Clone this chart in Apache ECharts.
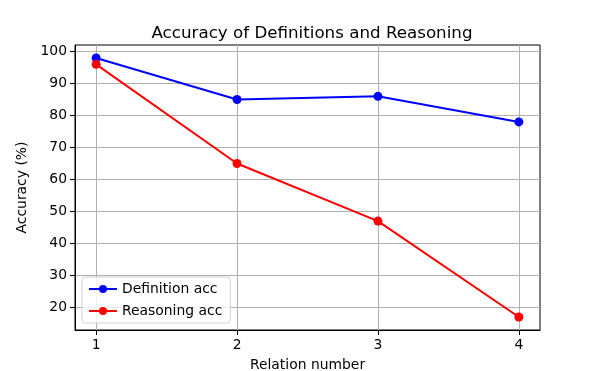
<!DOCTYPE html>
<html lang="en">
<head>
<meta charset="utf-8">
<title>Accuracy of Definitions and Reasoning</title>
<script src="https://cdn.jsdelivr.net/npm/echarts@6/dist/echarts.min.js"></script>
<style>
  html, body { margin: 0; padding: 0; background: #fff; }
  #chart { width: 600px; height: 371px; }
</style>
</head>
<body>
<div id="chart"></div>
<script>
// data
const relations = [1, 2, 3, 4];
const definitionAcc = [98, 85, 86, 78];
const reasoningAcc = [96, 65, 47, 17];
const yTicks = [20, 30, 40, 50, 60, 70, 80, 90, 100];

const FONT = 'DejaVu Sans';

const chart = echarts.init(document.getElementById('chart'));

function pairs(xs, ys) {
  return xs.map((x, i) => [x, ys[i]]);
}

chart.setOption({
  animation: false,
  backgroundColor: '#fff',
  title: {
    text: 'Accuracy of Definitions and Reasoning',
    left: 307, top: 20, textAlign: 'center',
    textStyle: { fontFamily: FONT, fontSize: 16.7, fontWeight: 'normal', color: '#000' }
  },
  grid: {
    left: 75, right: 60, top: 45, bottom: 41,
    outerBoundsMode: 'none', containLabel: false,
    show: true, borderColor: '#000', borderWidth: 1
  },
  legend: {
    left: 82, bottom: 48, orient: 'vertical',
    itemWidth: 28, itemHeight: 10, itemGap: 8,
    padding: [5, 8, 5, 6],
    backgroundColor: 'rgba(255,255,255,0.8)',
    borderColor: '#d0d0d0', borderWidth: 1, borderRadius: 3,
    textStyle: { fontFamily: FONT, fontSize: 13.9, color: '#000' },
    data: ['Definition acc', 'Reasoning acc']
  },
  xAxis: {
    type: 'value', min: 0.85, max: 4.15,
    name: 'Relation number', nameLocation: 'middle', nameGap: 28,
    nameTextStyle: { fontFamily: FONT, fontSize: 13.9, color: '#000' },
    axisLine: { show: true, lineStyle: { color: '#000', width: 1 } },
    axisTick: { show: true, length: 5, lineStyle: { color: '#000' }, customValues: relations },
    axisLabel: { fontFamily: FONT, fontSize: 13.9, color: '#000', margin: 8, customValues: relations },
    splitLine: { show: true, lineStyle: { color: '#b0b0b0', width: 1 } }
  },
  yAxis: {
    type: 'value', min: 12.95, max: 102.05,
    name: 'Accuracy (%)', nameLocation: 'middle', nameGap: 44,
    nameTextStyle: { fontFamily: FONT, fontSize: 13.9, color: '#000' },
    axisLine: { show: true, lineStyle: { color: '#000', width: 1 } },
    axisTick: { show: true, length: 5, lineStyle: { color: '#000' }, customValues: yTicks },
    axisLabel: { fontFamily: FONT, fontSize: 13.9, color: '#000', margin: 8, customValues: yTicks },
    splitLine: { show: true, lineStyle: { color: '#b0b0b0', width: 1 } }
  },
  series: [
    {
      name: 'Definition acc', type: 'line',
      data: pairs(relations, definitionAcc),
      symbol: 'circle', symbolSize: 9,
      lineStyle: { color: '#0000ff', width: 2 },
      itemStyle: { color: '#0000ff' }
    },
    {
      name: 'Reasoning acc', type: 'line',
      data: pairs(relations, reasoningAcc),
      symbol: 'circle', symbolSize: 9,
      lineStyle: { color: '#ff0000', width: 2 },
      itemStyle: { color: '#ff0000' }
    }
  ]
});
</script>
</body>
</html>
